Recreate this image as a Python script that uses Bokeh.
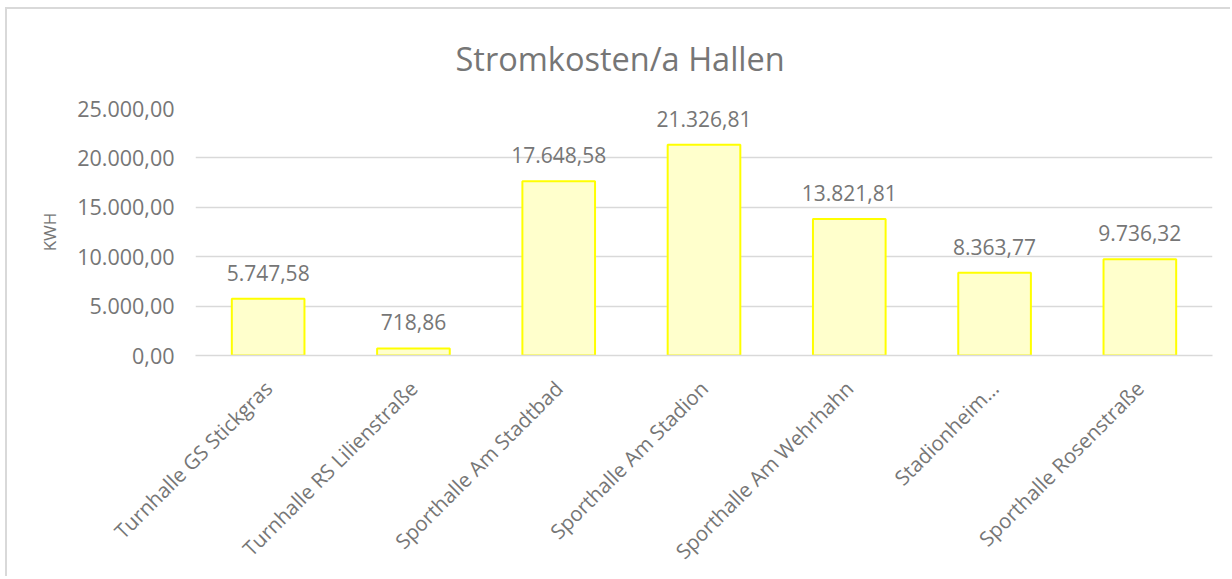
from bokeh.plotting import figure
from bokeh.models import ColumnDataSource, LabelSet, FixedTicker, Range1d, FactorRange, Title
from bokeh.core.properties import value
from bokeh.embed import file_html
from bokeh.resources import INLINE
import math

categories = ["Turnhalle GS Stickgras", "Turnhalle RS Lilienstraße", "Sporthalle Am Stadtbad",
              "Sporthalle Am Stadion", "Sporthalle Am Wehrhahn", "Stadionheim…", "Sporthalle Rosenstraße"]
values = [5747.58, 718.86, 17648.58, 21326.81, 13821.81, 8363.77, 9736.32]
tick_values = [0, 5000, 10000, 15000, 20000, 25000]
tick_labels = ["0,00", "5.000,00", "10.000,00", "15.000,00", "20.000,00", "25.000,00"]
title_text = "Stromkosten/a Hallen"
y_label = "KWH"


def de_fmt(v):
    return f"{v:,.2f}".replace(",", "X").replace(".", ",").replace("X", ".")


TEXT = "#767676"
GRID = "#d9d9d9"
FONT = "Open Sans"

src = ColumnDataSource(dict(cat=categories, val=values, lab=[de_fmt(v) for v in values]))

p = figure(x_range=FactorRange(*categories, range_padding=0), y_range=Range1d(0, 25000),
           width=1225, height=569, output_backend="svg", toolbar_location=None,
           min_border_left=188, min_border_right=20, min_border_top=98, min_border_bottom=223,
           styles={"margin-left": "5px", "margin-top": "7px",
                   "border-top": "2px solid #d9d9d9", "border-left": "2px solid #d9d9d9",
                   "border-right": "none", "border-bottom": "none"})
p.title.visible = False
t = Title(text=title_text, align="left", vertical_align="top", text_font=FONT,
          text_font_size="32.5px", text_color=TEXT, text_font_style="normal",
          standoff=52, offset=260)
p.add_layout(t, "above")

p.outline_line_color = None
p.background_fill_color = "white"
p.border_fill_color = "white"

p.vbar(x="cat", top="val", width=0.5, source=src, fill_color="#FFFFCC",
       line_color="#FFFF00", line_width=2)

labels = LabelSet(x="cat", y="val", text="lab", source=src, text_align="center",
                  text_baseline="alphabetic", y_offset=18, text_font=value(FONT),
                  text_font_size=value("21px"), text_color=TEXT)
p.add_layout(labels)

p.xgrid.grid_line_color = None
p.ygrid.grid_line_color = GRID
p.ygrid.grid_line_width = 1.5

p.yaxis.ticker = FixedTicker(ticks=tick_values)
p.yaxis.major_label_overrides = {tv: tl for tv, tl in zip(tick_values, tick_labels)}
p.yaxis.axis_line_color = None
p.yaxis.major_tick_line_color = None
p.yaxis.minor_tick_line_color = None
p.yaxis.major_label_text_font = FONT
p.yaxis.major_label_text_font_size = "21.5px"
p.yaxis.major_label_text_color = TEXT
p.yaxis.major_label_standoff = 15
p.yaxis.axis_label = y_label
p.yaxis.axis_label_text_font = FONT
p.yaxis.axis_label_text_font_size = "17px"
p.yaxis.axis_label_text_font_style = "normal"
p.yaxis.axis_label_text_color = TEXT
p.yaxis.axis_label_standoff = 13

p.xaxis.axis_line_color = GRID
p.xaxis.axis_line_width = 1.5
p.xaxis.major_tick_line_color = None
p.xaxis.minor_tick_line_color = None
p.xaxis.major_label_orientation = math.pi / 4
p.xaxis.major_label_text_font = FONT
p.xaxis.major_label_text_font_size = "20.5px"
p.xaxis.major_label_text_color = TEXT
p.xaxis.major_label_standoff = 23

open("out.html", "w").write(file_html(p, INLINE))
